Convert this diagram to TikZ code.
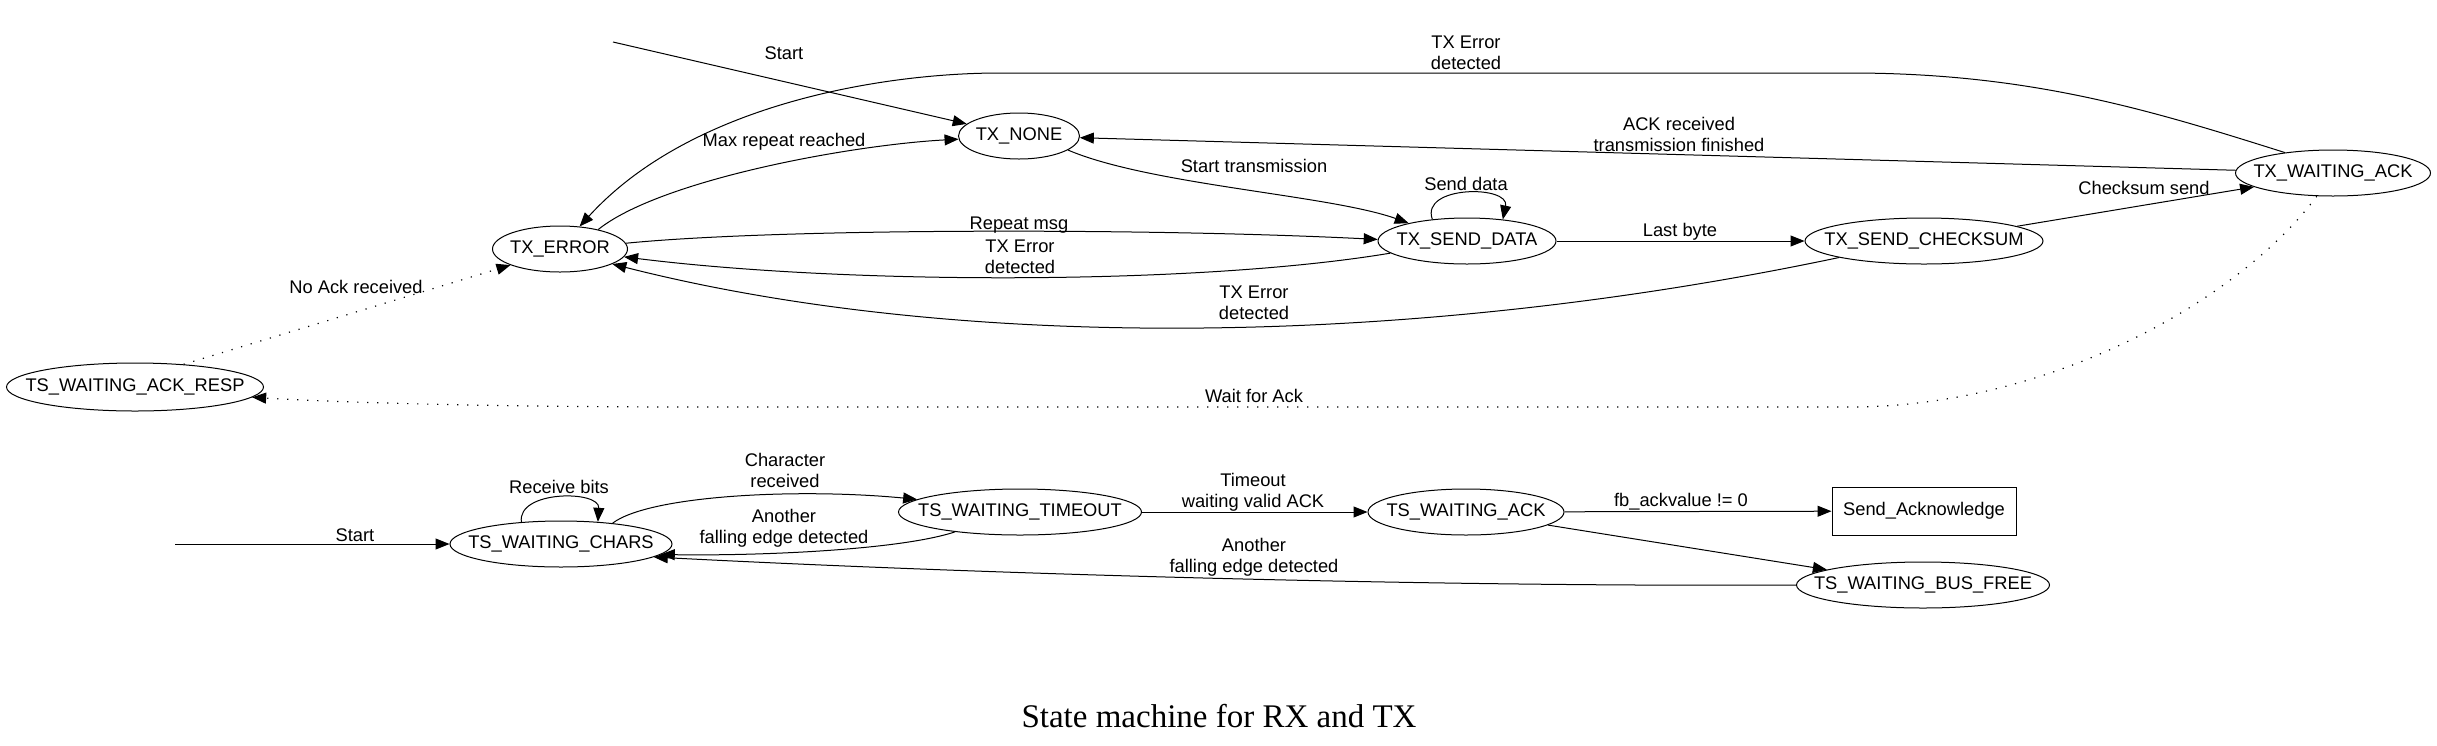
\documentclass[tikz,border=0pt]{standalone}
\usepackage{fontspec}
\setmainfont{Liberation Sans}
\newfontfamily\capfont{Liberation Serif}
\usetikzlibrary{shapes.geometric,arrows.meta}
\newcommand\zb[1]{\makebox[0pt]{#1}}
\begin{document}
\begin{tikzpicture}[x=0.5pt,y=-0.5pt,
  st/.style={ellipse,draw,line width=0.5pt,inner sep=0pt,minimum height=23pt,minimum width=#1,font=\fontsize{9.15}{10.5}\selectfont},
  boxst/.style={rectangle,draw,line width=0.5pt,inner sep=0pt,minimum height=24pt,minimum width=#1,font=\fontsize{9.15}{10.5}\selectfont},
  lab/.style={inner sep=0pt,align=center,font=\fontsize{9.15}{10.5}\selectfont},
  arr/.style={draw,line width=0.5pt,-{Triangle[length=7pt,width=5.5pt]}},
  dotln/.style={arr,line width=0.6pt,dash pattern=on 0.6pt off 4.4pt}]
\useasboundingbox (0,0) rectangle (2437,745);
% TX states
\node[st=60.5pt] (txnone) at (1019,136) {\zb{TX\_NONE}};
\node[st=67.5pt] (txerr) at (560,249) {\zb{TX\_ERROR}};
\node[st=89pt] (txsd) at (1467,241) {\zb{TX\_SEND\_DATA}};
\node[st=119pt] (txcs) at (1924,241) {\zb{TX\_SEND\_CHECKSUM}};
\node[st=97.5pt] (txwa) at (2333,173) {\zb{TX\_WAITING\_ACK}};
\node[st=128.5pt,minimum height=24pt] (tsar) at (135,387) {\zb{TS\_WAITING\_ACK\_RESP}};
% RX states
\node[st=111pt] (tswc) at (561,544) {\zb{TS\_WAITING\_CHARS}};
\node[st=121.5pt] (tswt) at (1020,512) {\zb{TS\_WAITING\_TIMEOUT}};
\node[st=98pt] (tswa) at (1466,512) {\zb{TS\_WAITING\_ACK}};
\node[boxst=92pt] (sack) at (1924,511) {Send\_Acknowledge};
\node[st=126.5pt] (tsbf) at (1923,585) {\zb{TS\_WAITING\_BUS\_FREE}};
\coordinate (s1) at (613,42);
\coordinate (s2) at (175,544);
% TX edges
\draw[arr] (s1) -- (txnone);
\node[lab] (l1) at (784,53) {Start};
\draw[arr] (txerr.27) .. controls (660,180) and (850,145) .. (txnone.183);
\node[lab] (l2) at (784,142) {Max repeat reached};
\draw[arr] (txnone.-16) .. controls (1150,185) and (1330,195) .. (txsd.163);
\node[lab] (l3) at (1254,166) {Start transmission};
\draw[arr] (txsd.148) .. controls (1420,185) and (1510,185) .. (txsd.31);
\node[lab] (l4) at (1466,184) {Send data};
\draw[arr] (txerr.5) .. controls (780,228) and (1150,228) .. (txsd.179);
\node[lab] (l5) at (1019,225) {Repeat msg};
\draw[arr] (txsd.189) .. controls (1200,285) and (850,285) .. (txerr.-7);
\node[lab] (l6) at (1020,257) {TX Error\\detected};
\draw[arr] (txcs.191) .. controls (1400,350) and (950,350) .. (txerr.-16);
\node[lab] (l7) at (1254,303) {TX Error\\detected};
\draw[arr] (txsd) -- (txcs);
\node[lab] (l8) at (1680,232) {Last byte};
\draw[arr] (txcs.9) -- (txwa.190);
\node[lab] (l9) at (2144,188) {Checksum send};
\draw[arr] (txwa) -- (txnone);
\node[lab] (l10) at (1679,134) {ACK received\\transmission finished};
\draw[arr] (txwa.157) .. controls (2150,110) and (2030,73) .. (1850,73) -- (1000,73) .. controls (880,73) and (690,105) .. (txerr.49);
\node[lab] (l11) at (1466,53) {TX Error\\detected};
\draw[dotln] (txwa.235) .. controls (2240,300) and (2050,407) .. (1850,407) -- (700,407) .. controls (500,407) and (350,403) .. (tsar.-5);
\node[lab] (l12) at (1254,396) {Wait for Ack};
\draw[dotln] (tsar.25) -- (txerr.198);
\node[lab] (l13) at (356,287) {No Ack received};
% RX edges
\draw[arr] (s2) -- (tswc);
\node[lab] (l14) at (355,535) {Start};
\draw[arr] (tswc.151) .. controls (517,490) and (600,490) .. (tswc.31);
\node[lab] (l15) at (559,487) {Receive bits};
\draw[arr] (tswc.22) .. controls (650,495) and (800,488) .. (tswt.173);
\node[lab] (l16) at (785,470) {Character\\received};
\draw[arr] (tswt.197) .. controls (900,550) and (760,556) .. (tswc.-6);
\node[lab] (l17) at (784,528) {Another\\falling edge detected};
\draw[arr] (tswt) -- (tswa);
\node[lab] (l18) at (1253,492) {Timeout\\waiting valid ACK};
\draw[arr] (tswa) -- (sack);
\node[lab] (l19) at (1681,502) {fb\_ackvalue != 0};
\draw[arr] (tswa) -- (tsbf);
\draw[arr] (tsbf.180) .. controls (1450,587) and (1000,575) .. (tswc.-8);
\node[lab] (l20) at (1254,557) {Another\\falling edge detected};
\node[inner sep=0pt,font=\capfont\fontsize{16.5}{19}\selectfont] (cap) at (1219,716) {State machine for RX and TX};
\end{tikzpicture}
\end{document}
